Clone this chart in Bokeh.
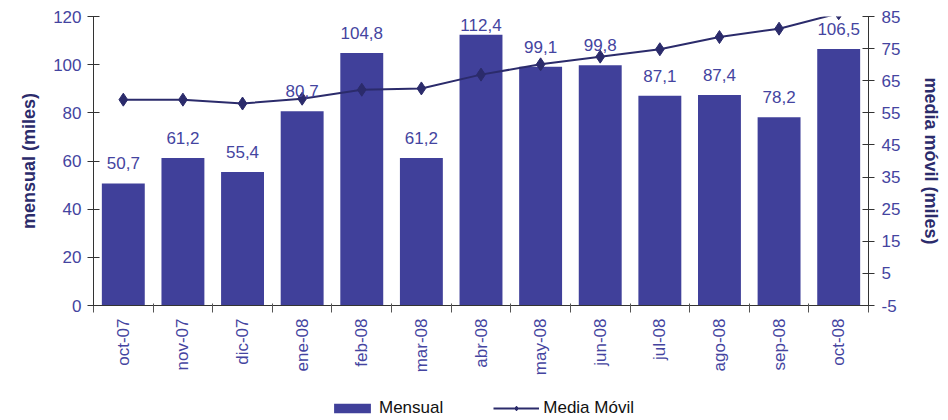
import numpy as np
from bokeh.plotting import figure
from bokeh.layouts import column
from bokeh.models import (Range1d, LinearAxis, FixedTicker, ColumnDataSource,
                          LabelSet, Legend, LegendItem)
from bokeh.core.properties import value
from bokeh.embed import file_html
from bokeh.resources import INLINE

months = ["oct-07", "nov-07", "dic-07", "ene-08", "feb-08", "mar-08",
          "abr-08", "may-08", "jun-08", "jul-08", "ago-08", "sep-08", "oct-08"]
mensual = [50.7, 61.2, 55.4, 80.7, 104.8, 61.2, 112.4, 99.1, 99.8, 87.1, 87.4, 78.2, 106.5]
media_movil = [59.1, 59.1, 57.9, 59.4, 62.2, 62.6, 66.9, 70.1, 72.5, 74.8, 78.6, 81.2, 86.0]
left_ticks = [0, 20, 40, 60, 80, 100, 120]
right_ticks = [-5, 5, 15, 25, 35, 45, 55, 65, 75, 85]
series_names = ["Mensual", "Media Móvil"]

BAR = "#40409A"
LINE = "#2B2B6B"
TXT = "#4444A0"
TITLE = "#2B2B6B"
FONT = "Liberation Sans"

W = 948
LEG_H = 22
H = 420 - LEG_H
FL, FR, FT, FB = 93, 868, 16, 305   # frame edges
n = len(months)
xs = np.arange(n)

p = figure(width=W, height=H, output_backend="svg", toolbar_location=None,
           x_range=Range1d(-0.5, n - 0.5), y_range=Range1d(0, 120),
           min_border_left=FL, min_border_right=W - FR, min_border_top=FT,
           min_border_bottom=H - FB)
p.outline_line_color = None
p.xgrid.visible = False
p.ygrid.visible = False
p.extra_y_ranges = {"right": Range1d(-5, 85)}

# keep bar labels inside the plotting frame
LABEL_OFF = 14
px_per_unit = (FB - FT) / (p.y_range.end - p.y_range.start)
cap = p.y_range.end - (LABEL_OFF + 14) / px_per_unit
label_y = np.minimum(np.array(mensual), cap)

src = ColumnDataSource(dict(x=xs, m=mensual, mm=media_movil, ly=label_y,
                            lbl=[f"{v:.1f}".replace(".", ",") for v in mensual]))

bars = p.vbar(x="x", top="m", width=0.72, source=src, fill_color=BAR,
              line_color=None)
ln = p.line(x="x", y="mm", source=src, line_color=LINE, line_width=2,
            y_range_name="right")
sc = p.scatter(x="x", y="mm", source=src, marker="diamond", size=13,
               fill_color=LINE, line_color=LINE, y_range_name="right")

labels = LabelSet(x="x", y="ly", text="lbl", source=src, text_align="center",
                  text_baseline="alphabetic", y_offset=LABEL_OFF,
                  text_font=value(FONT), text_font_size=value("17px"),
                  text_color=value(TXT))
p.add_layout(labels)

# x axis
xa = p.xaxis[0]
xa.ticker = FixedTicker(ticks=list(xs), minor_ticks=list(np.arange(n + 1) - 0.5))
xa.major_label_overrides = {int(i): m for i, m in zip(xs, months)}
xa.major_label_orientation = np.pi / 2
xa.major_tick_line_color = None
xa.major_tick_out = 7
xa.major_tick_in = 0
xa.minor_tick_line_color = "#555555"
xa.minor_tick_out = 7
xa.minor_tick_in = 2
xa.axis_line_color = "#333333"
xa.major_label_standoff = 6
xa.major_label_text_font = FONT
xa.major_label_text_font_size = "17px"
xa.major_label_text_color = TXT

# left axis
ya = p.yaxis[0]
ya.ticker = FixedTicker(ticks=left_ticks, minor_ticks=[])
ya.axis_label = "mensual (miles)"
ya.major_tick_in = 6
ya.major_tick_out = 6
ya.major_tick_line_color = "#333333"
ya.axis_line_color = "#333333"
ya.minor_tick_line_color = None
ya.major_label_standoff = 6
ya.major_label_text_font = FONT
ya.major_label_text_font_size = "17px"
ya.major_label_text_color = TXT
ya.axis_label_text_font = FONT
ya.axis_label_text_font_style = "bold"
ya.axis_label_text_font_size = "18px"
ya.axis_label_text_color = TITLE
ya.axis_label_standoff = 11

# right axis
ra = LinearAxis(y_range_name="right", ticker=FixedTicker(ticks=right_ticks, minor_ticks=[]),
                axis_label="media móvil (miles)")
ra.major_label_overrides = {t: str(t) for t in right_ticks}
ra.major_tick_in = 6
ra.major_tick_out = 6
ra.major_tick_line_color = "#333333"
ra.axis_line_color = "#333333"
ra.minor_tick_line_color = None
ra.major_label_standoff = 7
ra.major_label_text_font = FONT
ra.major_label_text_font_size = "17px"
ra.major_label_text_color = TXT
ra.axis_label_text_font = FONT
ra.axis_label_text_font_style = "bold"
ra.axis_label_text_font_size = "18px"
ra.axis_label_text_color = TITLE
ra.axis_label_standoff = 18
p.add_layout(ra, "right")

# legend strip below the chart (its own small figure so it is not clipped);
# its view ranges lie away from the data so only the legend shows
lg = figure(width=W, height=LEG_H, output_backend="svg", toolbar_location=None,
            x_range=Range1d(1000, 1001), y_range=Range1d(1000, 1001),
            min_border=0, x_axis_type=None, y_axis_type=None)
lg.outline_line_color = None
lg.xgrid.visible = False
lg.ygrid.visible = False
lb = lg.vbar(x="x", top="m", width=0.72, source=src, fill_color=BAR, line_color=None)
ll = lg.line(x="x", y="mm", source=src, line_color=LINE, line_width=2)
ls = lg.scatter(x="x", y="mm", source=src, marker="diamond", size=13,
                fill_color=LINE, line_color=LINE)
legend = Legend(items=[LegendItem(label=series_names[0], renderers=[lb]),
                       LegendItem(label=series_names[1], renderers=[ll, ls])],
                orientation="horizontal", location=(236, 2),
                glyph_width=46, glyph_height=12, label_standoff=4, spacing=50,
                padding=0, margin=0, border_line_color=None,
                background_fill_alpha=0,
                label_text_font=FONT, label_text_font_size="17px",
                label_text_color="#111111")
lg.add_layout(legend)

layout = column(p, lg, spacing=0)
open("out.html", "w").write(file_html(layout, INLINE))
